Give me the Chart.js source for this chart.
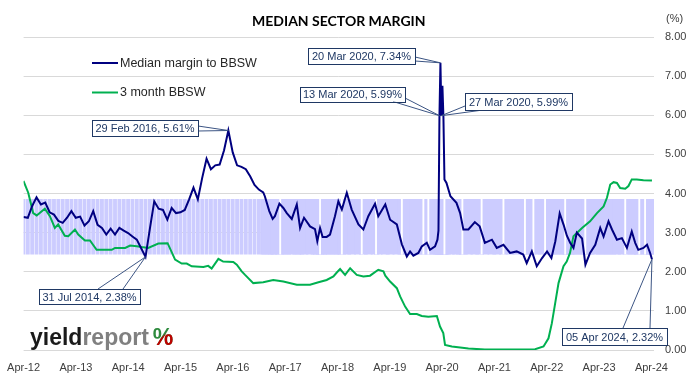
<!DOCTYPE html>
<html><head><meta charset="utf-8">
<script src="https://cdn.jsdelivr.net/npm/chart.js@4.4.1/dist/chart.umd.min.js"></script>
<style>html,body{margin:0;padding:0;background:#fff;}#wrap{width:699px;height:383px;}</style>
</head><body><div id="wrap"><canvas id="c" width="699" height="383"></canvas></div>
<script>
const chartTitle = 'MEDIAN SECTOR MARGIN';
const unitLabel = '(%)';
const seriesNames = ['Median margin to BBSW', '3 month BBSW'];
const tickLabels = ['Apr-12','Apr-13','Apr-14','Apr-15','Apr-16','Apr-17','Apr-18','Apr-19','Apr-20','Apr-21','Apr-22','Apr-23','Apr-24'];

const marginDates = [
'2012-03-31','2012-04-30','2012-05-31','2012-06-30','2012-07-31','2012-08-31','2012-09-30','2012-10-31','2012-11-30','2012-12-31',
'2013-01-31','2013-02-28','2013-03-31','2013-04-30','2013-05-31','2013-06-30','2013-07-31','2013-08-31','2013-09-30','2013-10-31','2013-11-30','2013-12-31',
'2014-01-31','2014-02-28','2014-03-31','2014-04-30','2014-05-31','2014-06-30','2014-07-31','2014-08-31','2014-09-30','2014-10-31','2014-11-30','2014-12-31',
'2015-01-31','2015-02-28','2015-03-31','2015-04-30','2015-05-31','2015-06-30','2015-07-31','2015-08-31','2015-09-30','2015-10-31','2015-11-30','2015-12-31',
'2016-01-31','2016-02-29','2016-03-31','2016-04-30','2016-05-31','2016-06-30','2016-07-31','2016-08-31','2016-09-30','2016-10-31',
'2016-11-11','2016-12-12','2017-01-05','2017-01-21','2017-02-20','2017-03-19','2017-04-12','2017-05-17','2017-06-21','2017-07-14',
'2017-08-11','2017-09-22','2017-10-27','2017-11-12','2017-12-01','2017-12-19','2018-01-17','2018-02-09','2018-03-14','2018-04-07',
'2018-05-01','2018-06-05','2018-07-09','2018-08-26','2018-09-29','2018-11-03','2018-12-20','2019-01-12','2019-02-28','2019-04-03',
'2019-05-20','2019-06-24','2019-07-29','2019-08-21','2019-09-13','2019-10-18','2019-11-11','2019-12-16','2020-01-08','2020-02-12',
'2020-02-28','2020-03-06','2020-03-13','2020-03-20','2020-03-27','2020-04-03','2020-04-10','2020-04-17','2020-05-01','2020-05-29',
'2020-07-10','2020-08-05','2020-08-28','2020-10-02','2020-11-16','2020-12-20','2021-01-26','2021-03-14','2021-04-17','2021-06-03',
'2021-07-19','2021-09-04','2021-10-20','2021-11-13','2021-12-19','2022-01-23','2022-02-27','2022-04-03','2022-05-03','2022-05-31',
'2022-06-30','2022-07-28','2022-08-20','2022-09-12','2022-10-05','2022-10-29','2022-12-04','2022-12-28','2023-01-30','2023-03-05',
'2023-04-09','2023-05-02','2023-06-06','2023-06-30','2023-08-04','2023-09-08','2023-10-13','2023-11-16','2023-12-10','2024-01-01',
'2024-02-06','2024-03-01','2024-03-23','2024-04-05'];
const marginValues = [
3.40,3.38,3.68,3.90,3.72,3.77,3.52,3.46,3.30,3.25,
3.38,3.55,3.38,3.41,3.18,3.29,3.55,3.20,3.12,2.95,3.10,2.95,
3.12,3.05,2.99,2.90,2.82,2.60,2.38,3.10,3.80,3.61,3.58,3.33,
3.63,3.50,3.52,3.58,3.85,4.15,3.85,4.40,4.89,4.62,4.72,4.74,
5.10,5.61,5.05,4.72,4.68,4.62,4.44,4.22,4.10,4.03,
3.93,3.55,3.35,3.42,3.74,3.63,3.50,3.35,3.72,3.12,
3.38,3.16,3.09,2.78,3.12,2.89,2.89,2.95,3.42,3.80,
3.59,4.02,3.59,3.21,3.08,3.42,3.74,3.42,3.72,3.33,
3.21,2.70,2.39,2.52,2.41,2.48,2.65,2.74,2.56,2.65,
2.82,3.05,5.99,7.34,5.99,6.75,5.95,4.36,4.27,3.93,
3.76,3.50,3.08,3.08,3.27,3.16,2.74,2.82,2.61,2.69,
2.48,2.52,2.44,2.22,2.52,2.14,2.35,2.52,2.35,2.78,
3.49,3.20,2.92,2.74,2.61,3.00,2.85,2.18,2.48,2.69,
3.12,2.90,3.29,3.08,2.82,2.86,2.61,3.03,2.74,2.56,
2.61,2.69,2.48,2.32];

const bbswDates = [
'2012-03-31','2012-05-03','2012-06-07','2012-07-01','2012-08-28','2012-10-02','2012-11-06','2012-11-29','2013-01-15','2013-02-08',
'2013-03-25','2013-04-17','2013-06-03','2013-07-08','2013-08-24','2013-12-08','2013-12-31','2014-03-10','2014-04-14','2014-05-31',
'2014-07-04','2014-08-19','2014-10-29','2015-01-02','2015-02-22','2015-04-09','2015-05-14','2015-06-18','2015-09-08','2015-10-12',
'2015-11-05','2015-12-22','2016-01-25','2016-04-04','2016-04-28','2016-06-02','2016-06-25','2016-08-22','2016-10-31','2017-01-09',
'2017-03-19','2017-06-21','2017-09-22','2017-11-20','2018-01-17','2018-03-03','2018-03-27','2018-04-19','2018-05-24','2018-06-28',
'2018-08-14','2018-09-29','2018-11-15','2019-01-12','2019-02-16','2019-02-28','2019-04-03','2019-05-20','2019-06-12','2019-07-17',
'2019-08-21','2019-10-07','2019-11-11','2019-12-27','2020-02-24','2020-03-17','2020-04-09','2020-04-21','2020-06-08','2020-10-02',
'2021-01-26','2021-05-23','2021-09-16','2022-01-11','2022-03-09','2022-04-13','2022-05-06','2022-05-30','2022-06-22','2022-07-27',
'2022-08-19','2022-09-11','2022-10-05','2022-10-29','2022-12-04','2023-01-30','2023-03-17','2023-05-02','2023-05-26','2023-06-18',
'2023-07-11','2023-08-04','2023-08-27','2023-10-01','2023-10-24','2023-11-16','2023-12-21','2024-02-06','2024-04-05'];
const bbswValues = [
4.32,4.02,3.50,3.44,3.61,3.42,3.12,3.21,2.92,2.91,
3.08,2.95,2.80,2.80,2.56,2.56,2.61,2.61,2.67,2.65,
2.63,2.61,2.72,2.73,2.31,2.21,2.21,2.14,2.12,2.15,
2.08,2.33,2.26,2.25,2.18,2.01,1.92,1.71,1.73,1.79,
1.75,1.67,1.67,1.73,1.79,1.88,1.98,2.07,1.92,2.09,
1.92,1.88,1.90,2.05,2.01,1.90,1.75,1.58,1.37,1.11,
0.92,0.92,0.87,0.85,0.87,0.60,0.43,0.13,0.09,0.04,
0.01,0.01,0.01,0.02,0.09,0.30,0.68,1.20,1.71,2.14,
2.26,2.48,2.91,2.99,3.12,3.29,3.50,3.67,3.89,4.23,
4.29,4.27,4.14,4.12,4.19,4.36,4.36,4.34,4.33];

const bandRange = [2.45, 3.85];
const bandSolidFrom = '2016-11-01';
const bandGapDates = ['2017-02-25','2017-12-01','2018-05-01','2018-09-18','2018-12-27','2019-06-24','2019-11-22','2019-12-27',
'2020-04-17','2020-08-21','2021-01-03','2021-06-03','2021-11-01','2021-12-30','2022-03-20','2022-08-08','2022-12-27','2023-10-01','2024-01-08','2024-02-17'];

const calloutDates = ['2014-07-31','2016-02-29','2020-03-13','2020-03-20','2020-03-27','2024-04-05'];
const calloutValues = [2.38, 5.61, 5.99, 7.34, 5.99, 2.32];
const calloutLabels = ['31 Jul 2014, 2.38%','29 Feb 2016, 5.61%','13 Mar 2020, 5.99%','20 Mar 2020, 7.34%','27 Mar 2020, 5.99%','05 Apr 2024, 2.32%'];

// layout only (pixel positions of callout boxes and leader anchors, target plot area)
const calloutBoxes = [
  {x:39, y:289, w:101, h:15, a:[[98,289],[123,289]]},
  {x:92, y:120, w:106, h:16, a:[[198,126],[198,131]]},
  {x:300, y:86.5, w:105, h:15, a:[[393,101.5],[405,98]]},
  {x:308, y:48, w:107, h:15.5, a:[[415,57],[415,61]]},
  {x:465, y:93, w:107, h:17, a:[[465,106],[483,110]]},
  {x:562, y:328, w:105, h:17, a:[[623,328],[650,328]]}
];
const targetArea = {left:23.6, right:654, top:37, bottom:350};

const FONT = "'Liberation Sans', Arial, sans-serif";

function toX(s){
  const p = s.split('-').map(Number);
  const dim = new Date(p[0], p[1], 0).getDate();
  return (p[0]-2012)*12 + (p[1]-4) + (p[2]-1)/dim;
}
const pts = (dates, vals) => dates.map((d,i)=>({x:toX(d), y:vals[i]}));
const bandPts = dates => dates.map(d=>({x:toX(d), y:bandRange.slice()}));
const solidX = toX(bandSolidFrom);

const decor = {
  id:'decor',
  afterDatasetsDraw(chart){
    const ctx = chart.ctx, xs = chart.scales.x, ys = chart.scales.y, ca = chart.chartArea;
    ctx.save();
    ctx.fillStyle = '#000';
    ctx.font = "bold 14px Lato, 'Liberation Sans', sans-serif";
    ctx.textAlign = 'center'; ctx.textBaseline = 'alphabetic';
    ctx.fillText(chartTitle, (ca.left+ca.right)/2, 26);
    ctx.font = '11px ' + FONT; ctx.fillStyle = '#404040';
    ctx.textAlign = 'left'; ctx.textBaseline = 'middle';
    ctx.fillText(unitLabel, 666, 18.5);
    const legY = [63, 92.5], legC = ['#000080', '#00B050'];
    ctx.font = '12.5px ' + FONT;
    seriesNames.forEach((n,i)=>{
      ctx.strokeStyle = legC[i]; ctx.lineWidth = 2;
      ctx.beginPath(); ctx.moveTo(92, legY[i]); ctx.lineTo(118, legY[i]); ctx.stroke();
      ctx.fillStyle = '#262626'; ctx.textAlign='left'; ctx.textBaseline='middle';
      ctx.fillText(n, 120, legY[i]+0.5);
    });
    calloutDates.forEach((d,i)=>{
      const px = xs.getPixelForValue(toX(d)), py = ys.getPixelForValue(calloutValues[i]);
      const b = calloutBoxes[i];
      ctx.strokeStyle = '#3B5483'; ctx.lineWidth = 1;
      ctx.beginPath(); ctx.moveTo(b.a[0][0], b.a[0][1]); ctx.lineTo(px, py); ctx.lineTo(b.a[1][0], b.a[1][1]); ctx.stroke();
      ctx.fillStyle = '#fff'; ctx.fillRect(b.x, b.y, b.w, b.h);
      ctx.strokeStyle = '#1F3864'; ctx.strokeRect(Math.round(b.x)+0.5, Math.round(b.y)+0.5, Math.round(b.w), Math.round(b.h));
      ctx.fillStyle = '#1F3864'; ctx.font = '11px ' + FONT;
      ctx.textAlign = 'center'; ctx.textBaseline = 'middle';
      ctx.fillText(calloutLabels[i], b.x + b.w/2, b.y + b.h/2 + 1);
    });
    ctx.font = 'bold 23px ' + FONT; ctx.textAlign = 'left'; ctx.textBaseline = 'alphabetic';
    const base = 345; let lx = 30;
    ctx.fillStyle = '#1a1a1a'; ctx.fillText('yield', lx, base); lx += ctx.measureText('yield').width;
    ctx.fillStyle = '#808080'; ctx.fillText('report', lx, base); lx += ctx.measureText('report').width + 4;
    const pw = ctx.measureText('%').width;
    ctx.fillStyle = '#2E8B3E'; ctx.fillText('%', lx, base);
    ctx.save();
    ctx.beginPath(); ctx.moveTo(lx+pw+2, base-20); ctx.lineTo(lx+pw+2, base+2); ctx.lineTo(lx-2, base+2); ctx.closePath(); ctx.clip();
    ctx.fillStyle = '#C00000'; ctx.fillText('%', lx, base);
    ctx.restore();
    ctx.restore();
  }
};

const chart = new Chart(document.getElementById('c'), {
  type: 'line',
  data: { datasets: [
    {type:'line', label:seriesNames[0], data:pts(marginDates, marginValues), borderColor:'#000080', borderWidth:2, pointRadius:0, tension:0, order:0},
    {type:'line', label:seriesNames[1], data:pts(bbswDates, bbswValues), borderColor:'#00B050', borderWidth:2, pointRadius:0, tension:0, order:1},
    {type:'bar', data:bandPts(bandGapDates), backgroundColor:'#FFFFFF', barThickness:1.2, stack:'band', order:2},
    {type:'bar', data:bandPts(marginDates.filter(d=>toX(d) < solidX)), backgroundColor:'#CCCCFF', barThickness:3.2, stack:'band', order:3},
    {type:'bar', data:bandPts(marginDates.filter(d=>toX(d) >= solidX)), backgroundColor:'#CCCCFF', barThickness:8, stack:'band', order:4}
  ]},
  options: {
    responsive:false, animation:false, devicePixelRatio:1,
    layout:{padding:{left:23.6, right:12, top:37, bottom:9}},
    plugins:{legend:{display:false}, tooltip:{enabled:false}, title:{display:false}},
    scales:{
      x:{type:'linear', min:0, max:144.6, offset:false,
         grid:{display:false}, border:{display:false},
         afterBuildTicks:s=>{ s.ticks = tickLabels.map((l,i)=>({value:i*12})); },
         afterFit:s=>{ s.paddingLeft = 0; s.paddingRight = 0; },
         ticks:{autoSkip:false, maxRotation:0, padding:3, color:'#404040', font:{family:FONT, size:11},
                callback:(v,i)=>tickLabels[i]}},
      y:{position:'right', min:0, max:8, stacked:false,
         grid:{color:'#D9D9D9', drawTicks:false}, border:{display:false},
         afterFit:s=>{ s.paddingTop = 0; s.paddingBottom = 0; },
         ticks:{stepSize:1, padding:11, color:'#404040', font:{family:FONT, size:11}, callback:v=>Number(v).toFixed(2)}}
    }
  },
  plugins:[decor]
});
for (let k = 0; k < 3; k++) {
  const ca = chart.chartArea, p = chart.options.layout.padding;
  p.left += targetArea.left - ca.left;
  p.top += targetArea.top - ca.top;
  p.right += ca.right - targetArea.right;
  p.bottom += ca.bottom - targetArea.bottom;
  chart.update('none');
}
</script></body></html>
